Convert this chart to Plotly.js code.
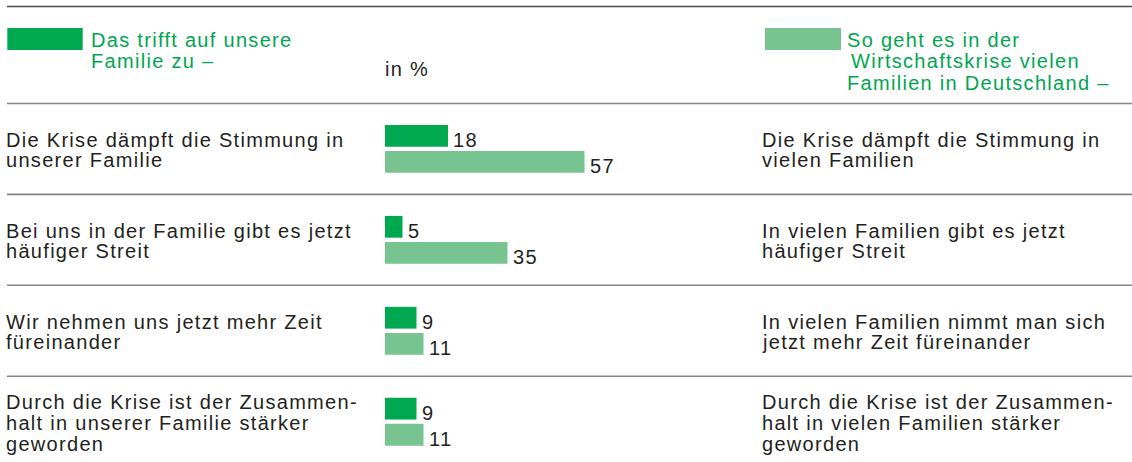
<!DOCTYPE html>
<html>
<head>
<meta charset="utf-8">
<script src="https://cdn.plot.ly/plotly-3.0.1.min.js"></script>
<style>
  html, body { margin: 0; padding: 0; background: #ffffff; }
  #chart { width: 1132px; height: 462px; }
</style>
</head>
<body>
<div id="chart"></div>
<script>
// ---------- data ----------
const leftLabels = [
  'Die Krise dämpft die Stimmung in<br>unserer Familie',
  'Bei uns in der Familie gibt es jetzt<br>häufiger Streit',
  'Wir nehmen uns jetzt mehr Zeit<br>füreinander',
  'Durch die Krise ist der Zusammen-<br>halt in unserer Familie stärker<br>geworden'
];
const rightLabels = [
  'Die Krise dämpft die Stimmung in<br>vielen Familien',
  'In vielen Familien gibt es jetzt<br>häufiger Streit',
  'In vielen Familien nimmt man sich<br>jetzt mehr Zeit füreinander',
  'Durch die Krise ist der Zusammen-<br>halt in vielen Familien stärker<br>geworden'
];
const ownFamily = [18, 5, 9, 9];
const germanyFamilies = [57, 35, 11, 11];
const seriesNames = [
  'Das trifft auf unsere<br>Familie zu –',
  'So geht es in der<br>Wirtschaftskrise vielen<br>Familien in Deutschland –'
];
const unitLabel = 'in %';

// ---------- styles ----------
const W = 1132, H = 462;
const FONT = '"Liberation Sans", Arial, sans-serif';
const FS = 20;
const TEXT = '#231f20';
const DARK = '#00a84f';
const LIGHT = '#77c490';
const GREEN_TEXT = '#00a651';
const LINE_H = 20.7;
const DESC = 0.212 * FS;          // descent below baseline
const px2py = p => 1 - p / H;      // pixel y -> paper y

const annotations = [];
function addLines(text, opts) {
  const lines = text.split('<br>');
  lines.forEach((ln, k) => {
    const d = opts.mid + (k - (lines.length - 1) / 2) * LINE_H; // baseline offset from anchor
    annotations.push(Object.assign({
      text: ln, showarrow: false, xanchor: 'left', yanchor: 'bottom', align: 'left',
      borderpad: 0, borderwidth: 0,
      font: {family: FONT, size: FS, color: opts.color || TEXT},
      yshift: -d - DESC, xshift: (opts.xshifts && opts.xshifts[k]) || 0
    }, opts.pos));
  });
}

// row labels left and right
leftLabels.forEach((lab, i) => {
  addLines(lab, {mid: 8, pos: {xref: 'paper', x: 6 / W, yref: 'y', y: leftLabels[i]}});
  addLines(rightLabels[i], {mid: 8, pos: {xref: 'paper', x: 762 / W, yref: 'y', y: leftLabels[i]}});
});

// value labels
ownFamily.forEach((v, i) => {
  annotations.push({text: String(v), xref: 'x', x: v, yref: 'y', y: leftLabels[i],
    showarrow: false, xanchor: 'left', yanchor: 'bottom', align: 'left', borderpad: 0, borderwidth: 0,
    xshift: 5, yshift: 2.15 - DESC, font: {family: FONT, size: FS, color: TEXT}});
});
germanyFamilies.forEach((v, i) => {
  annotations.push({text: String(v), xref: 'x', x: v, yref: 'y', y: leftLabels[i],
    showarrow: false, xanchor: 'left', yanchor: 'bottom', align: 'left', borderpad: 0, borderwidth: 0,
    xshift: 5, yshift: -23.8 - DESC, font: {family: FONT, size: FS, color: TEXT}});
});

// header (legend) texts
seriesNames[0].split('<br>').forEach((ln, k) => {
  const base = 46.7 + k * 21;
  annotations.push({text: ln, xref: 'paper', x: 90.5 / W, yref: 'paper', y: px2py(base + DESC),
    showarrow: false, xanchor: 'left', yanchor: 'bottom', align: 'left', borderpad: 0, borderwidth: 0,
    font: {family: FONT, size: FS, color: GREEN_TEXT}});
});
seriesNames[1].split('<br>').forEach((ln, k) => {
  const base = 46.7 + k * 21.3;
  annotations.push({text: ln, xref: 'paper', x: (k === 1 ? 851 : 847) / W, yref: 'paper', y: px2py(base + DESC),
    showarrow: false, xanchor: 'left', yanchor: 'bottom', align: 'left', borderpad: 0, borderwidth: 0,
    font: {family: FONT, size: FS, color: GREEN_TEXT}});
});
annotations.push({text: unitLabel, xref: 'paper', x: 384.7 / W, yref: 'paper', y: px2py(76 + DESC),
  showarrow: false, xanchor: 'left', yanchor: 'bottom', align: 'left', borderpad: 0, borderwidth: 0,
  font: {family: FONT, size: FS, color: TEXT}});

// shapes: rules and legend swatches
const shapes = [
  {type: 'line', xref: 'paper', yref: 'paper', x0: 7 / W, x1: 1, y0: px2py(6.5), y1: px2py(6.5),
   line: {color: '#4d4d4d', width: 1.6}},
  {type: 'rect', xref: 'paper', yref: 'paper', x0: 7.3 / W, x1: 82.7 / W, y0: px2py(50), y1: px2py(28),
   fillcolor: DARK, line: {width: 0}},
  {type: 'rect', xref: 'paper', yref: 'paper', x0: 765 / W, x1: 841 / W, y0: px2py(50), y1: px2py(28),
   fillcolor: LIGHT, line: {width: 0}}
];
leftLabels.forEach((lab, i) => {
  shapes.push({type: 'line', xref: 'paper', yref: 'y', x0: 7 / W, x1: 1, y0: i - 0.5, y1: i - 0.5,
    line: {color: '#858585', width: 1.6}});
});

// ---------- traces ----------
const traces = [
  {type: 'bar', orientation: 'h', name: 'own', x: ownFamily, y: leftLabels,
   marker: {color: DARK, line: {width: 0}}, hoverinfo: 'skip'},
  {type: 'bar', orientation: 'h', name: 'germany', x: germanyFamilies, y: leftLabels,
   marker: {color: LIGHT, line: {width: 0}}, hoverinfo: 'skip'}
];

// axis scales: 0 at x=385px, 3.5 px per percent; category centre 0 at 148.9px, 90.93 px per row
const PPU_X = 3.5, X0 = 385;
const PPU_Y = 90.93, Y0 = 148.9;
const layout = {
  width: W, height: H, autosize: false,
  margin: {l: 0, r: 0, t: 0, b: 0, pad: 0},
  paper_bgcolor: '#ffffff', plot_bgcolor: '#ffffff',
  showlegend: false,
  barmode: 'group', bargap: 0.426, bargroupgap: 0.165,
  xaxis: {range: [-X0 / PPU_X, (W - X0) / PPU_X], showgrid: false, zeroline: false,
          showticklabels: false, ticks: '', showline: false, fixedrange: true},
  yaxis: {type: 'category', categoryorder: 'array', categoryarray: leftLabels,
          range: [(H - Y0) / PPU_Y, -Y0 / PPU_Y], showgrid: false, zeroline: false,
          showticklabels: false, ticks: '', showline: false, fixedrange: true},
  annotations: annotations,
  shapes: shapes,
  font: {family: FONT, size: FS, color: TEXT}
};

Plotly.newPlot('chart', traces, layout, {staticPlot: true, displayModeBar: false}).then(() => {
  document.querySelectorAll('.annotation-text').forEach(el => { el.style.letterSpacing = '1.3px'; });
});
</script>
</body>
</html>
